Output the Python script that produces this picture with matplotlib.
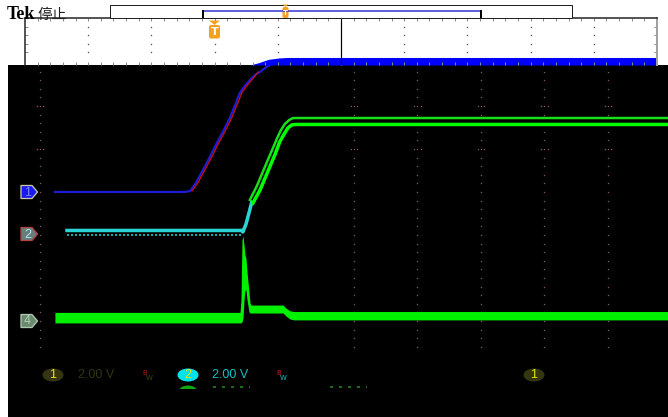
import numpy as np
import matplotlib
matplotlib.use("Agg")
import matplotlib.pyplot as plt
import matplotlib.patches as patches

# time in screen divisions from centre, amplitude in volts (2 V/div)
ch1_t = [-4.71, -2.66, -2.58, -2.49, -2.38, -2.27, -2.16, -2.05, -1.95, -1.86, -1.80,
         -1.72, -1.64, -1.56, -1.48, -1.40, -1.32, -1.24, -1.09, -0.85, -0.54, 4.94]
ch1_v = [0.0, 0.0, 0.05, 0.42, 1.02, 1.63, 2.28, 2.88, 3.49, 4.14, 4.60,
         4.93, 5.21, 5.44, 5.58, 5.77, 5.91, 6.05, 6.37, 6.70, 6.88, 6.98]

# red overlay that follows ch1 on the rising edge
ref_t = [-2.55, -2.46, -2.35, -2.24, -2.13, -2.02, -1.92, -1.83, -1.77, -1.69, -1.61, -1.51]
ref_v = [0.05, 0.42, 1.02, 1.63, 2.28, 2.88, 3.49, 4.14, 4.60, 4.93, 5.21, 5.58]

# ch2 (cyan) before the edge
ch2_t = [-4.52, -1.76, -1.75, -1.70, -1.65, -1.61]
ch2_v = [0.21, 0.21, 0.14, 0.51, 1.07, 1.53]
ch2_low_t = [-4.52, -1.76]
ch2_low_v = [0.0, 0.0]

# green traces after the edge (two lines)
gup_t = [-1.64, -1.53, -1.45, -1.37, -1.29, -1.21, -1.15, -1.09, -1.02, -0.96, 4.94]
gup_v = [1.63, 2.28, 2.84, 3.40, 3.95, 4.51, 4.88, 5.16, 5.35, 5.44, 5.44]
glo_t = [-1.59, -1.48, -1.40, -1.32, -1.24, -1.17, -1.10, -1.04, -0.98, -0.91, 4.94]
glo_v = [1.49, 2.09, 2.65, 3.21, 3.77, 4.33, 4.70, 4.98, 5.12, 5.14, 5.14]

# ch4 (green) min / max envelope
ch4_t = [-4.71, -1.795, -1.78, -1.764, -1.748, -1.732, -1.717, -1.701, -1.685,
         -1.669, -1.654, -1.638, -1.622, -1.118, -1.071, -1.008, -0.945, 4.945]
ch4_hi = [0.40, 0.40, 0.98, 3.77, 3.95, 3.53, 3.07, 2.93, 2.28,
          1.81, 1.35, 0.84, 0.74, 0.74, 0.60, 0.47, 0.44, 0.44]
ch4_lo = [-0.09, -0.09, -0.09, -0.05, 0.14, 0.98, 1.44, 1.44, 0.98,
          0.70, 0.42, 0.37, 0.37, 0.37, 0.23, 0.09, 0.05, 0.05]

# record overview (blue band), x in overview divisions, height as fraction
ov_x = [3.56, 3.70, 3.85, 4.02, 4.15, 10.0]
ov_top = [0.0, 0.05, 0.12, 0.15, 0.16, 0.16]

vdiv = 2.0
offset = {1: 1.0, 2: 0.0, 4: -2.0}
grid_x = [-4.95, 0.0, 1.0, 2.0, 3.0, 4.0]
scale_labels = ["2.00 V", "2.00 V"]

W, H = 668, 417


def px(n):
    return n * 72 / 100


def box(x0, y0, x1, y1):
    return [x0 / W, 1 - y1 / H, (x1 - x0) / W, (y1 - y0) / H]


def scr(v, ch):
    return np.asarray(v) / vdiv + offset[ch]


fig = plt.figure(figsize=(W / 100, H / 100), dpi=100)
fig.patch.set_facecolor('white')

# main display
ax = fig.add_axes(box(8, 65, 668, 417))
ax.set_facecolor('black')
ax.set_xlim(-5.449, 4.945)
ax.set_ylim(-4.233, 3.953)
ax.set_xticks([])
ax.set_yticks([])
for s in ax.spines.values():
    s.set_visible(False)

dot_y = np.arange(-2.6, 3.81, 0.2)
for gx in grid_x:
    ax.plot(np.full(dot_y.size, gx), dot_y, ls='none', marker='s', ms=px(1.3),
            mew=0, color='#8a5656')
    ax.plot([gx - 0.05, gx + 0.05] * 2, [3, 3, 2, 2], ls='none', marker='s',
            ms=px(1.3), mew=0, color='#8a5656')

ax.plot(ch1_t, scr(ch1_v, 1), color='#1c1cd8', lw=px(2.2), zorder=3)
ax.plot(ref_t, scr(ref_v, 1), color='#c81010', lw=px(1.3), zorder=4)
ax.plot(ch2_t, scr(ch2_v, 2), color='#2ad4d4', lw=px(3.5), zorder=3)
ax.plot(ch2_low_t, scr(ch2_low_v, 2), color='#1aa8a8', lw=px(2), ls=(0, (1, 1)), zorder=3)
ax.plot(gup_t, scr(gup_v, 2), color='#18e018', lw=px(2.5), zorder=3)
ax.plot(glo_t, scr(glo_v, 2), color='#00ff00', lw=px(3.5), zorder=3)
ax.fill_between(ch4_t, scr(ch4_lo, 4), scr(ch4_hi, 4), color='#00f000', lw=0, zorder=3)

# record overview
ov = fig.add_axes(box(25, 18, 657, 65))
ov.set_facecolor('white')
ov.set_xlim(0, 10)
ov.set_ylim(0, 1)
ov.fill_between(ov_x, 0, ov_top, color='#0000ff', lw=0)
ov.axvline(5, color='black', lw=px(1.2))
oy = [1 - k * 8.6 / 47 for k in range(1, 5)]
for gx in [1, 2, 3, 4, 6, 7, 8, 9]:
    ov.plot([gx] * 4, oy, ls='none', marker='s', ms=px(1.3), mew=0, color='#505050')
ov.set_xticks(np.arange(0.2, 10, 0.2))
ov.set_yticks(oy)
ov.tick_params(direction='in', length=2, width=px(1), color='#8c8c8c',
               top=True, right=True, labelbottom=False, labelleft=False)
ov.spines['bottom'].set_visible(False)
ov.spines['left'].set_color('#202020')
ov.spines['top'].set_color('#202020')
ov.spines['right'].set_color('#a0a0a0')
ov.spines['right'].set_linewidth(px(2))
for k in ['left', 'top']:
    ov.spines[k].set_linewidth(px(1.5))

# overlay for screen furniture (pixel coordinates)
ui = fig.add_axes([0, 0, 1, 1], zorder=5)
ui.set_xlim(0, W)
ui.set_ylim(H, 0)
ui.axis('off')

ui.text(7, 18.5, 'Tek', fontfamily='Liberation Serif', fontweight='bold',
        fontsize=13, va='baseline', color='black')
ui.text(37, 18.5, '停止', fontfamily=['Noto Sans CJK SC', 'DejaVu Sans'],
        fontsize=10.5, va='baseline', color='#202020')

# record view bar
ui.add_patch(patches.Rectangle((111, 6), 462, 13, fc='#b0b0b0', ec='none'))
ui.add_patch(patches.Rectangle((110, 5), 462, 13, fc='white', ec='#202020', lw=px(1)))
ui.plot([203, 481], [11, 11], color='#3030d0', lw=px(1.5))
ui.plot([203, 203], [11, 17], color='black', lw=px(2))
ui.plot([481, 481], [11, 17], color='black', lw=px(2))


def trig_marker(x, top, w, tri, body, fs):
    orange = '#f5a020'
    ui.add_patch(patches.Polygon([(x - w / 2, top), (x + w / 2, top), (x, top + tri)],
                                 closed=True, fc=orange, ec='none'))
    ui.add_patch(patches.FancyBboxPatch((x - w / 2, top + tri), w, body,
                                        boxstyle='round,pad=0,rounding_size=2',
                                        fc=orange, ec='none'))
    ui.text(x, top + tri + body / 2 + 0.5, 'T', color='white', fontsize=fs,
            fontweight='bold', ha='center', va='center', fontfamily='DejaVu Sans')


trig_marker(285.5, 4.5, 6, 2.5, 11, 5)
trig_marker(214.5, 20.5, 11, 4.5, 13.5, 8)


# channel markers on the left
def ch_marker(y, label, fc, ec, tc):
    pts = [(21, y - 6.5), (32, y - 6.5), (37.5, y), (32, y + 6.5), (21, y + 6.5)]
    ui.add_patch(patches.Polygon(pts, closed=True, fc=fc, ec=ec, lw=px(1.3),
                                 joinstyle='round'))
    ui.text(27.5, y + 0.5, label, color=tc, fontsize=9, ha='center', va='center',
            fontfamily='Liberation Sans')


ch_marker(192, '1', '#1818f0', '#c8c8a8', '#8080ff')
ch_marker(234, '2', '#6c7c7c', '#b04040', '#a0f0f0')
ch_marker(321, '4', '#6a8a70', '#b0c8b0', '#b0d0b0')


# bottom readouts
def badge(x, y, label, fc):
    ui.add_patch(patches.Ellipse((x, y), 21, 13, fc=fc, ec='none'))
    ui.text(x, y + 0.5, label, color='#e8e800', fontsize=9, ha='center', va='center',
            fontfamily='Liberation Sans')


badge(53, 375, '1', '#353510')
ui.text(78, 375.5, scale_labels[0], color='#353510', fontsize=9, va='center',
        fontfamily='Liberation Sans')
ui.text(142.5, 373, 'B', color='#a02020', fontsize=5, va='center', fontfamily='DejaVu Sans')
ui.text(145.5, 378, 'W', color='#404010', fontsize=5, va='center', fontfamily='DejaVu Sans')

green_badge = patches.Ellipse((188, 392), 19, 13, fc='#10a810', ec='none')
ui.add_patch(green_badge)
green_badge.set_clip_path(patches.Rectangle((170, 383), 40, 5.5, transform=ui.transData))
badge(188, 375, '2', '#00e2ea')
ui.text(212, 375.5, scale_labels[1], color='#10c4c4', fontsize=9, va='center',
        fontfamily='Liberation Sans')
ui.text(276.5, 373, 'B', color='#c02020', fontsize=5, va='center', fontfamily='DejaVu Sans')
ui.text(279.5, 378, 'W', color='#10c4c4', fontsize=5, va='center', fontfamily='DejaVu Sans')
ui.plot([213, 250], [386.5, 386.5], color='#209020', lw=px(1.5), ls=(0, (2, 4)))
ui.plot([330, 367], [386.5, 386.5], color='#209020', lw=px(1.5), ls=(0, (2, 4)))

badge(534, 375, '1', '#353510')

fig.savefig('out.png', dpi=100)
